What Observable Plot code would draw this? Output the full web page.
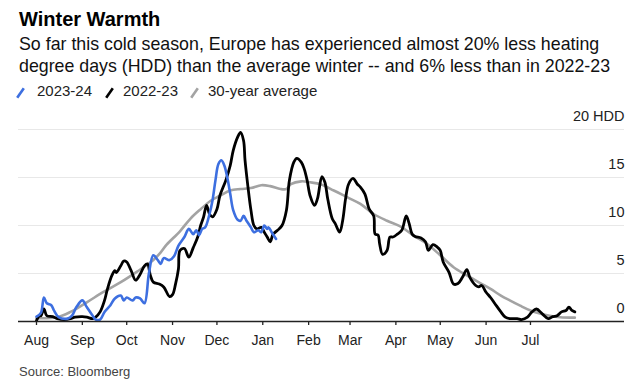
<!DOCTYPE html>
<html>
<head>
<meta charset="utf-8">
<script src="https://cdn.jsdelivr.net/npm/d3@7"></script>
<script src="https://cdn.jsdelivr.net/npm/@observablehq/plot@0.6"></script>
<style>
  body { margin: 0; background: #fff; font-family: "Liberation Sans", Arial, sans-serif; }
  #wrap { position: relative; width: 644px; height: 387px; overflow: hidden; background: #fff; }
  .title { position: absolute; left: 19px; top: 7px; font-size: 20px; font-weight: bold; line-height: 24px; color: #000; white-space: nowrap; }
  .sub { position: absolute; left: 19px; top: 33px; font-size: 17.8px; line-height: 22px; color: #111; white-space: nowrap; }
  .legend { position: absolute; left: 0; top: 81px; width: 644px; height: 20px; font-size: 15px; line-height: 20px; color: #222; }
  .legend .sw { position: absolute; top: 6px; }
  .legend .lb { position: absolute; top: 0; white-space: nowrap; }
  #chart { position: absolute; left: 0; top: 101px; }
  #chart svg { display: block; }
  .source { position: absolute; left: 19px; top: 363.5px; font-size: 13px; line-height: 16px; color: #444; white-space: nowrap; }
</style>
</head>
<body>
<div id="wrap">
  <div class="title">Winter Warmth</div>
  <div class="sub">So far this cold season, Europe has experienced almost 20% less heating<br>degree days (HDD) than the average winter -- and 6% less than in 2022-23</div>
  <div class="legend" id="legend"></div>
  <div id="chart"></div>
  <div class="source">Source: Bloomberg</div>
</div>
<script>
// ---- data (month-day, HDD) ----
const seriesNames = ["2023-24", "2022-23", "30-year average"];
const seriesColors = ["#3d6fe0", "#000000", "#a3a3a3"];
const monthLabels = ["Aug","Sep","Oct","Nov","Dec","Jan","Feb","Mar","Apr","May","Jun","Jul"];
const yTickValues = [0, 5, 10, 15, 20];
const yUnit = "HDD";

const hdd2324 = [
  ["08-01",0.5],["08-04",0.9],["08-06",2.5],["08-08",1.9],["08-11",1.7],["08-13",1.1],["08-16",0.45],
  ["08-22",0.3],["08-25",0.6],["08-28",1.5],["09-01",2.2],["09-04",1.5],["09-08",0.6],["09-10",0.2],
  ["09-13",0.2],["09-16",1.0],["09-20",1.7],["09-23",2.4],["09-27",2.7],["09-29",2.2],["10-01",2.5],
  ["10-05",2.2],["10-07",2.5],["10-10",2.4],["10-13",1.9],["10-16",5.0],["10-19",6.9],["10-22",6.4],
  ["10-24",6.0],["10-26",6.6],["10-30",6.4],["11-02",6.8],["11-05",7.9],["11-09",8.8],["11-12",9.65],
  ["11-15",9.1],["11-17",9.5],["11-19",9.0],["11-21",9.65],["11-23",9.8],["11-26",11.2],["11-28",12.6],
  ["11-30",14.7],["12-02",16.4],["12-04",16.8],["12-06",16.25],["12-08",15.0],["12-10",13.3],["12-12",11.6],
  ["12-15",10.6],["12-17",10.5],["12-19",11.0],["12-21",10.5],["12-24",9.8],["12-26",9.3],["12-29",9.5],
  ["12-31",9.3],["01-02",10.0],["01-04",9.65],["01-05",9.8],["01-07",9.3],["01-10",8.6]
];

const hdd2223 = [
  ["08-01",0.1],["08-03",0.6],["08-04",0.6],["08-06",1.3],["08-08",0.6],["08-12",0.5],["08-15",0.3],
  ["08-20",0.2],["08-24",0.3],["08-27",0.45],["09-01",0.5],["09-04",0.45],["09-08",0.3],["09-10",0.45],
  ["09-13",1.0],["09-16",2.2],["09-18",3.4],["09-21",4.8],["09-23",5.3],["09-24",5.1],["09-27",5.8],
  ["09-29",6.3],["10-01",6.2],["10-04",5.3],["10-07",4.3],["10-10",4.9],["10-13",5.8],["10-15",6.0],
  ["10-17",4.8],["10-19",4.1],["10-23",3.9],["10-26",3.6],["10-30",2.6],["11-01",2.8],["11-03",3.9],
  ["11-05",5.5],["11-06",7.4],["11-09",7.6],["11-12",6.7],["11-15",7.7],["11-18",8.8],["11-20",10.0],
  ["11-22",10.9],["11-24",12.1],["11-26",11.2],["11-28",10.9],["12-01",11.7],["12-03",13.1],["12-07",14.7],
  ["12-10",16.25],["12-12",17.8],["12-15",19.2],["12-17",19.7],["12-19",18.85],["12-20",16.8],["12-22",14.0],
  ["12-24",11.6],["12-26",10.0],["12-28",9.65],["12-31",9.8],["01-02",9.3],["01-04",8.8],["01-06",8.3],
  ["01-08",9.1],["01-11",9.5],["01-14",10.0],["01-17",11.6],["01-19",14.7],["01-22",16.6],["01-24",17.0],
  ["01-27",16.6],["01-29",15.9],["01-31",14.7],["02-02",13.1],["02-05",12.1],["02-07",12.8],["02-10",15.1],
  ["02-12",14.5],["02-14",12.7],["02-17",10.7],["02-19",10.2],["02-22",9.3],["02-24",10.5],["02-26",12.8],
  ["02-28",14.3],["03-03",14.9],["03-06",14.3],["03-08",14.0],["03-11",13.3],["03-14",11.7],["03-17",11.0],
  ["03-18",9.1],["03-20",9.0],["03-21",8.1],["03-23",7.0],["03-26",7.4],["03-28",8.8],["03-30",8.8],
  ["04-02",9.1],["04-05",9.5],["04-08",11.0],["04-10",10.2],["04-12",9.1],["04-14",8.85],["04-18",8.7],
  ["04-21",8.3],["04-23",7.4],["04-26",8.0],["04-29",7.75],["05-01",7.4],["05-03",6.2],["05-07",5.1],
  ["05-10",3.9],["05-13",3.95],["05-16",4.6],["05-19",5.4],["05-21",4.6],["05-25",3.75],["05-27",3.6],
  ["05-29",3.75],["06-01",3.05],["06-04",2.5],["06-07",1.85],["06-11",1.0],["06-14",0.45],["06-17",0.3],
  ["06-22",0.3],["06-25",0.2],["06-29",0.45],["07-02",1.0],["07-05",1.3],["07-09",0.8],["07-13",0.3],
  ["07-16",0.5],["07-19",0.6],["07-22",1.0],["07-25",1.15],["07-27",1.5],["07-29",1.15],["07-31",1.0]
];

const hddAverage = [
  ["08-01",0.35],["08-15",0.45],["08-24",1.0],["09-04",2.0],["09-15",3.05],["09-27",4.1],["10-08",5.2],
  ["10-19",6.4],["10-24",7.2],["10-28",8.0],["11-06",9.4],["11-13",10.7],["11-20",11.7],["11-27",12.6],["12-03",13.1],
  ["12-10",13.65],["12-17",13.8],["12-24",13.9],["12-31",14.2],["01-06",14.1],["01-13",13.8],["01-17",13.8],
  ["01-20",14.3],["01-27",14.6],["02-02",14.5],["02-09",14.3],["02-18",13.65],["02-27",12.95],["03-08",12.25],
  ["03-17",11.2],["03-26",10.5],["04-04",9.9],["04-13",8.95],["04-22",8.1],["05-01",6.9],["05-10",5.65],
  ["05-19",4.8],["05-28",4.0],["06-04",3.4],["06-11",2.7],["06-17",2.2],["06-24",1.65],["07-01",1.15],
  ["07-08",0.8],["07-14",0.6],["07-21",0.45],["07-31",0.4]
];

// ---- helpers: place month-day on a common Aug–Jul season axis ----
function seasonDate(md) {
  const m = +md.slice(0, 2), d = +md.slice(3, 5);
  return new Date(Date.UTC(m >= 8 ? 2022 : 2023, m - 1, d));
}
const toRows = (arr) => arr.map(([md, v]) => ({date: seasonDate(md), v}));
const rows2324 = toRows(hdd2324);
const rows2223 = toRows(hdd2223);
const rowsAvg = toRows(hddAverage);
const monthTicks = monthLabels.map((_, i) => new Date(Date.UTC(i < 5 ? 2022 : 2023, (7 + i) % 12, 1)));

// ---- legend ----
const legend = document.getElementById("legend");
const swLeft = [16, 105, 190], lbLeft = [37, 123, 208];
seriesNames.forEach((name, i) => {
  const sw = document.createElementNS("http://www.w3.org/2000/svg", "svg");
  sw.setAttribute("width", "9"); sw.setAttribute("height", "12");
  sw.setAttribute("class", "sw");
  sw.style.left = swLeft[i] + "px";
  const ln = document.createElementNS("http://www.w3.org/2000/svg", "line");
  ln.setAttribute("x1", "1.2"); ln.setAttribute("y1", "10.8");
  ln.setAttribute("x2", "7.8"); ln.setAttribute("y2", "1.2");
  ln.setAttribute("stroke", seriesColors[i]); ln.setAttribute("stroke-width", "2.6");
  sw.appendChild(ln);
  legend.appendChild(sw);
  const lb = document.createElement("span");
  lb.className = "lb"; lb.style.left = lbLeft[i] + "px"; lb.textContent = name;
  legend.appendChild(lb);
});

// ---- chart ----
const chart = Plot.plot({
  width: 644,
  height: 262,
  marginLeft: 18,
  marginRight: 20,
  marginTop: 28,
  marginBottom: 42,
  style: {fontFamily: '"Liberation Sans", Arial, sans-serif', fontSize: "14px", background: "#fff", overflow: "visible"},
  x: {type: "utc", domain: [new Date(Date.UTC(2022, 6, 19, 20)), new Date(Date.UTC(2023, 8, 2, 14))], axis: null},
  y: {domain: [0, 20], axis: null},
  marks: [
    Plot.ruleY(yTickValues.filter((d) => d > 0), {stroke: "#e8e8e8", strokeWidth: 1}),
    Plot.line(rowsAvg, {x: "date", y: "v", stroke: seriesColors[2], strokeWidth: 2.6, curve: "catmull-rom"}),
    Plot.line(rows2223, {x: "date", y: "v", stroke: seriesColors[1], strokeWidth: 2.8, curve: "catmull-rom"}),
    Plot.line(rows2324, {x: "date", y: "v", stroke: seriesColors[0], strokeWidth: 2.6, curve: "catmull-rom"}),
    Plot.ruleY([0], {stroke: "#222", strokeWidth: 1.3}),
    Plot.axisX(monthTicks, {x: (d) => d, tickFormat: "%b", tickSize: 4, tickPadding: 10, color: "#222", strokeWidth: 1.3, fontSize: 14, label: null}),
    Plot.text(yTickValues, {
      y: (d) => d,
      frameAnchor: "right",
      textAnchor: "end",
      lineAnchor: "bottom",
      dy: -8.5,
      fontSize: 14.5,
      fill: "#222",
      text: (d) => (d === 20 ? `${d} ${yUnit}` : String(d))
    })
  ]
});
document.getElementById("chart").appendChild(chart);
</script>
</body>
</html>
